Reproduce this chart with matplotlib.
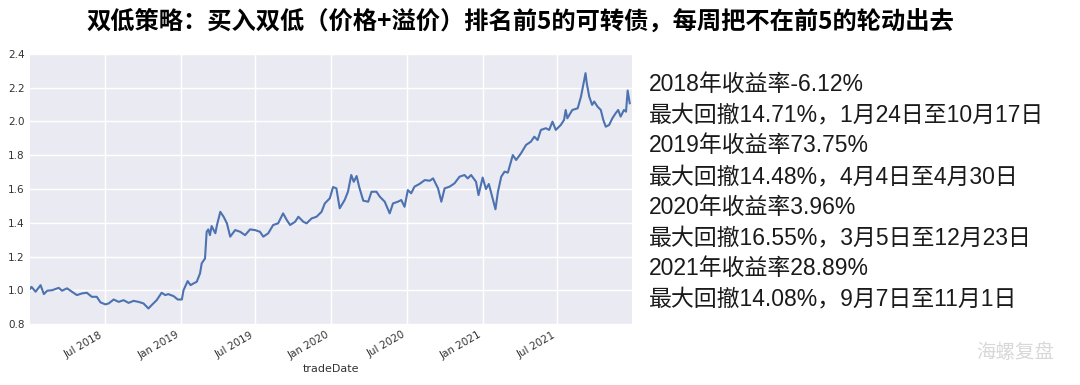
"""
Double-low convertible bond strategy: net value curve 2018-2021 with yearly stats on the right.
"""

import matplotlib
matplotlib.use("Agg")
import matplotlib.pyplot as plt
import matplotlib.dates as mdates
import pandas as pd

# values (approximate)
trade_dates = [
    "2018-01-02", "2018-01-05", "2018-01-15", "2018-01-27", "2018-02-04", "2018-02-12",
    "2018-02-24", "2018-03-12", "2018-03-20", "2018-04-01", "2018-04-13", "2018-04-25",
    "2018-05-07", "2018-05-19", "2018-05-31", "2018-06-12", "2018-06-21", "2018-07-03",
    "2018-07-11", "2018-07-23", "2018-08-04", "2018-08-16", "2018-08-28", "2018-09-09",
    "2018-09-21", "2018-10-03", "2018-10-15", "2018-10-27", "2018-11-04", "2018-11-16",
    "2018-11-25", "2018-12-02", "2018-12-15", "2018-12-25", "2019-01-04", "2019-01-08",
    "2019-01-18", "2019-01-25", "2019-02-01", "2019-02-09", "2019-02-17", "2019-02-21",
    "2019-03-01", "2019-03-05", "2019-03-09", "2019-03-13", "2019-03-17", "2019-03-26",
    "2019-03-30", "2019-04-07", "2019-04-15", "2019-04-23", "2019-05-01", "2019-05-13",
    "2019-05-25", "2019-06-06", "2019-06-18", "2019-06-30", "2019-07-12", "2019-07-20",
    "2019-08-01", "2019-08-13", "2019-08-25", "2019-09-06", "2019-09-15", "2019-09-23",
    "2019-10-05", "2019-10-13", "2019-10-25", "2019-11-02", "2019-11-14", "2019-11-26",
    "2019-12-08", "2019-12-16", "2019-12-24", "2019-12-28", "2020-01-05", "2020-01-13",
    "2020-01-21", "2020-02-02", "2020-02-10", "2020-02-18", "2020-02-24", "2020-03-02",
    "2020-03-08", "2020-03-18", "2020-03-30", "2020-04-07", "2020-04-19", "2020-04-27",
    "2020-05-09", "2020-05-21", "2020-05-29", "2020-06-10", "2020-06-18", "2020-06-26",
    "2020-07-04", "2020-07-12", "2020-07-20", "2020-08-01", "2020-08-14", "2020-08-26",
    "2020-09-03", "2020-09-15", "2020-09-23", "2020-10-01", "2020-10-13", "2020-10-25",
    "2020-11-06", "2020-11-18", "2020-11-26", "2020-12-04", "2020-12-16", "2020-12-22",
    "2021-01-01", "2021-01-09", "2021-01-16", "2021-01-24", "2021-02-01", "2021-02-07",
    "2021-02-15", "2021-02-23", "2021-03-03", "2021-03-15", "2021-03-23", "2021-04-04",
    "2021-04-16", "2021-04-28", "2021-05-06", "2021-05-14", "2021-05-22", "2021-06-03",
    "2021-06-11", "2021-06-19", "2021-06-27", "2021-07-09", "2021-07-17", "2021-07-21",
    "2021-07-25", "2021-08-06", "2021-08-19", "2021-08-27", "2021-09-07", "2021-09-10",
    "2021-09-16", "2021-09-23", "2021-09-28", "2021-10-06", "2021-10-14", "2021-10-20",
    "2021-10-26", "2021-11-03", "2021-11-11", "2021-11-19", "2021-11-25", "2021-12-01",
    "2021-12-09", "2021-12-14", "2021-12-18", "2021-12-23",
]
net_value = [
    1.010, 1.021, 0.992, 1.031, 0.978, 0.998,
    1.001, 1.015, 0.998, 1.012, 0.992, 0.972,
    0.982, 0.986, 0.962, 0.962, 0.929, 0.917,
    0.923, 0.946, 0.932, 0.942, 0.926, 0.938,
    0.932, 0.923, 0.893, 0.923, 0.942, 0.986,
    0.972, 0.978, 0.966, 0.946, 0.946, 1.001,
    1.055, 1.031, 1.041, 1.051, 1.101, 1.160,
    1.189, 1.347, 1.361, 1.327, 1.381, 1.338,
    1.387, 1.465, 1.436, 1.397, 1.318, 1.357,
    1.347, 1.327, 1.361, 1.357, 1.347, 1.318,
    1.338, 1.387, 1.397, 1.456, 1.416, 1.387,
    1.406, 1.436, 1.406, 1.397, 1.426, 1.436,
    1.465, 1.515, 1.535, 1.545, 1.612, 1.604,
    1.486, 1.535, 1.584, 1.683, 1.643, 1.677,
    1.614, 1.531, 1.525, 1.584, 1.584, 1.555,
    1.525, 1.456, 1.515, 1.525, 1.535, 1.495,
    1.594, 1.575, 1.614, 1.630, 1.653, 1.649,
    1.663, 1.604, 1.525, 1.604, 1.614, 1.634,
    1.673, 1.683, 1.663, 1.683, 1.643, 1.564,
    1.668, 1.600, 1.630, 1.555, 1.480, 1.584,
    1.673, 1.703, 1.697, 1.801, 1.772, 1.812,
    1.861, 1.881, 1.910, 1.890, 1.950, 1.960,
    1.950, 1.999, 1.950, 1.979, 2.009, 2.068,
    2.019, 2.068, 2.078, 2.147, 2.286, 2.226,
    2.147, 2.098, 2.118, 2.088, 2.068, 2.009,
    1.969, 1.979, 2.019, 2.049, 2.068, 2.029,
    2.068, 2.058, 2.183, 2.108,
]

title = "双低策略：买入双低（价格+溢价）排名前5的可转债，每周把不在前5的轮动出去"
stats_lines = [
    "2018年收益率-6.12%",
    "最大回撤14.71%，1月24日至10月17日",
    "2019年收益率73.75%",
    "最大回撤14.48%，4月4日至4月30日",
    "2020年收益率3.96%",
    "最大回撤16.55%，3月5日至12月23日",
    "2021年收益率28.89%",
    "最大回撤14.08%，9月7日至11月1日",
]
watermark = "海螺复盘"

plt.rcParams["font.family"] = ["DejaVu Sans", "Noto Sans CJK SC"]

fig = plt.figure(figsize=(10.8, 3.85), dpi=100)
ax = fig.add_axes([0.028, 0.158, 0.557, 0.702])
ax.set_facecolor("#EAEAF2")
for s in ax.spines.values():
    s.set_visible(False)

ax.plot(pd.to_datetime(trade_dates), net_value, color="#4C72B0", lw=1.5)

ax.set_xlim(pd.Timestamp("2018-01-02"), pd.Timestamp("2021-12-28"))
ax.set_ylim(0.8, 2.4)
ax.set_yticks([0.8, 1.0, 1.2, 1.4, 1.6, 1.8, 2.0, 2.2, 2.4])
ax.xaxis.set_major_locator(mdates.MonthLocator(bymonth=[1, 7]))
ax.xaxis.set_major_formatter(mdates.DateFormatter("%b %Y"))
ax.grid(True, color="white", lw=1.0)
ax.set_axisbelow(True)
ax.tick_params(length=0, labelsize=7.5, colors="#333333", pad=4)
for lbl in ax.get_xticklabels():
    lbl.set_rotation(30)
    lbl.set_ha("right")
ax.set_xlabel("tradeDate", fontsize=8, color="#333333", labelpad=2)

fig.text(0.482, 0.945, title, ha="center", va="center", fontsize=17.5,
         fontweight="bold", family=["Noto Sans CJK SC", "DejaVu Sans"])

for i, line in enumerate(stats_lines):
    fig.text(0.601, 0.78 - i * 0.0795, line, ha="left", va="center", fontsize=16.5,
             color="#1a1a1a", family=["Liberation Sans", "Noto Sans CJK SC"])

fig.text(0.94, 0.085, watermark, ha="center", va="center", fontsize=14,
         color="#d8d8d8", family=["Noto Sans CJK SC"])

fig.savefig("out.png", dpi=100)
